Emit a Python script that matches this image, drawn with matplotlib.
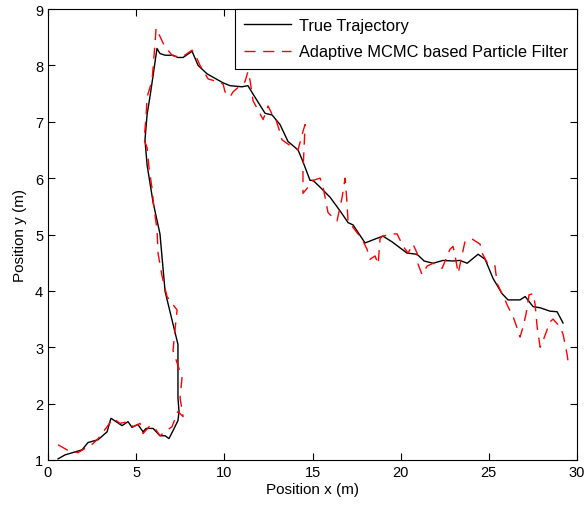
import numpy as np
import matplotlib
matplotlib.use('Agg')
import matplotlib.pyplot as plt

plt.rcParams['font.family'] = ['Liberation Sans', 'DejaVu Sans']

# true trajectory
true_x = [0.57, 0.96, 1.93, 2.27, 2.84, 3.35, 3.57, 4.20, 4.54, 4.76, 5.10, 5.39,
          5.56, 5.96, 6.35, 6.64, 6.86, 7.09, 7.37, 7.43, 7.37, 7.37, 6.64, 6.35,
          5.96, 5.62, 5.50, 5.62, 5.79, 5.96, 6.18, 6.35, 6.64, 7.09, 7.37, 7.66,
          8.17, 8.51, 9.02, 9.93, 10.32, 11.00, 11.34, 11.63, 12.31, 12.71, 13.16,
          13.61, 14.18, 14.46, 14.86, 15.03, 15.43, 16.00, 16.56, 17.02, 17.30,
          17.98, 18.72, 19.00, 19.51, 20.36, 20.93, 21.33, 21.84, 22.40, 22.97,
          23.37, 23.77, 24.39, 24.79, 25.24, 25.75, 26.09, 26.77, 27.06, 27.51,
          27.91, 28.47, 28.87, 29.21]
true_y = [1.02, 1.09, 1.18, 1.31, 1.36, 1.50, 1.74, 1.61, 1.68, 1.58, 1.63, 1.50,
          1.56, 1.56, 1.43, 1.43, 1.38, 1.52, 1.70, 1.86, 2.10, 3.05, 3.99, 5.01,
          5.57, 6.23, 6.68, 7.13, 7.46, 7.82, 8.30, 8.21, 8.18, 8.18, 8.14, 8.14,
          8.25, 8.00, 7.85, 7.69, 7.64, 7.62, 7.64, 7.49, 7.15, 7.12, 6.95,
          6.65, 6.50, 6.29, 5.96, 5.96, 5.84, 5.66, 5.42, 5.21, 5.17,
          4.85, 4.94, 4.97, 4.87, 4.67, 4.65, 4.53, 4.49, 4.54, 4.53,
          4.54, 4.49, 4.65, 4.56, 4.22, 3.95, 3.84, 3.84, 3.90, 3.72,
          3.70, 3.64, 3.63, 3.43]

# filter estimate
est_x = [0.57, 1.08, 1.70, 2.55, 2.84, 3.35, 3.69, 4.08, 4.54, 4.82, 5.22, 5.39,
         5.79, 6.07, 6.35, 6.64, 7.03, 7.37, 7.66, 7.49, 7.60, 7.09, 7.20, 7.32,
         6.75, 6.47, 6.24, 6.18, 6.01, 5.90, 5.73, 5.62, 5.45, 5.56, 5.62, 5.90,
         6.07, 6.13, 6.47, 6.58, 7.03, 7.20, 7.66, 8.17, 8.45, 8.62, 9.08, 9.30,
         9.93, 10.04, 10.32, 10.49, 11.00, 11.17, 11.34, 11.46, 11.63, 12.20,
         12.48, 12.71, 12.88, 13.16, 13.27, 13.90, 14.18, 14.46, 14.58, 14.46,
         14.46, 14.75, 15.03, 15.43, 15.60, 15.88, 16.17, 16.39, 16.68, 16.85,
         16.96, 17.02, 17.24, 17.58, 17.87, 18.09, 18.26, 18.55, 18.72, 18.83,
         18.95, 19.57, 19.80, 20.14, 20.42, 20.70, 20.93, 20.99, 21.21, 21.50,
         21.84, 22.35, 22.80, 22.97, 23.09, 23.26, 23.37, 23.65, 24.05, 24.50,
         24.62, 24.96, 25.35, 25.47, 25.92, 26.04, 26.38, 26.55, 26.77, 26.94,
         27.11, 27.28, 27.51, 27.62, 27.74, 27.91, 28.08, 28.47, 28.64, 29.04,
         29.21, 29.44, 29.50]
est_y = [1.27, 1.18, 1.13, 1.29, 1.38, 1.59, 1.74, 1.65, 1.68, 1.59, 1.65, 1.47,
         1.61, 1.56, 1.43, 1.50, 1.59, 1.86, 1.77, 2.10, 2.46, 2.94, 3.30, 3.66,
         3.90, 4.26, 4.67, 5.10, 5.46, 5.82, 6.18, 6.54, 6.68, 7.08, 7.44, 7.73,
         8.39, 8.66, 8.43, 8.36, 8.18, 8.16, 8.16, 8.27, 8.12, 8.00, 7.76, 7.74,
         7.67, 7.53, 7.44, 7.53, 7.67, 7.71, 7.89, 7.73, 7.37, 7.04,
         7.28, 7.13, 7.08, 6.81, 6.68, 6.54, 6.50, 6.83, 6.95, 6.11,
         5.73, 5.84, 5.96, 6.00, 5.84, 5.39, 5.30, 5.24, 5.66, 6.00,
         5.55, 5.21, 5.15, 5.01, 4.88, 4.74, 4.56, 4.62, 4.47, 4.92,
         4.97, 5.01, 5.01, 4.79, 4.67, 4.83, 4.67, 4.47, 4.29, 4.44,
         4.49, 4.40, 4.74, 4.79, 4.62, 4.31, 4.47, 4.88, 4.92, 4.83,
         4.67, 4.47, 4.44, 4.13, 3.84, 3.75, 3.54, 3.39, 3.18, 3.36,
         3.59, 3.93, 3.95, 3.77, 3.36, 3.00, 3.12, 3.45, 3.50, 3.36,
         3.23, 2.87, 2.73]

fig = plt.figure(figsize=(5.86, 5.06), dpi=100)
ax = fig.add_axes([48 / 586, 45 / 506, 529 / 586, 451 / 506])

ax.plot(true_x, true_y, color='black', linewidth=1, label='True Trajectory')
ax.plot(est_x, est_y, color='red', linewidth=1, dashes=(8, 5.5),
        label='Adaptive MCMC based Particle Filter')

ax.set_xlim(0, 30)
ax.set_ylim(1, 9)
ax.set_xticks(np.arange(0, 31, 5))
ax.set_yticks(np.arange(1, 10, 1))
ax.tick_params(direction='in', top=True, right=True, labelsize=10.5, length=5)
ax.set_xlabel('Position x (m)', fontsize=11, labelpad=2)
ax.set_ylabel('Position y (m)', fontsize=11, labelpad=6)

leg = ax.legend(loc='upper right', borderaxespad=0, fontsize=11.8, fancybox=False,
                framealpha=1, edgecolor='black', handlelength=2.9,
                borderpad=0.55, labelspacing=0.7, handletextpad=0.45)
leg.get_frame().set_linewidth(0.8)

fig.savefig('out.png', dpi=100)
